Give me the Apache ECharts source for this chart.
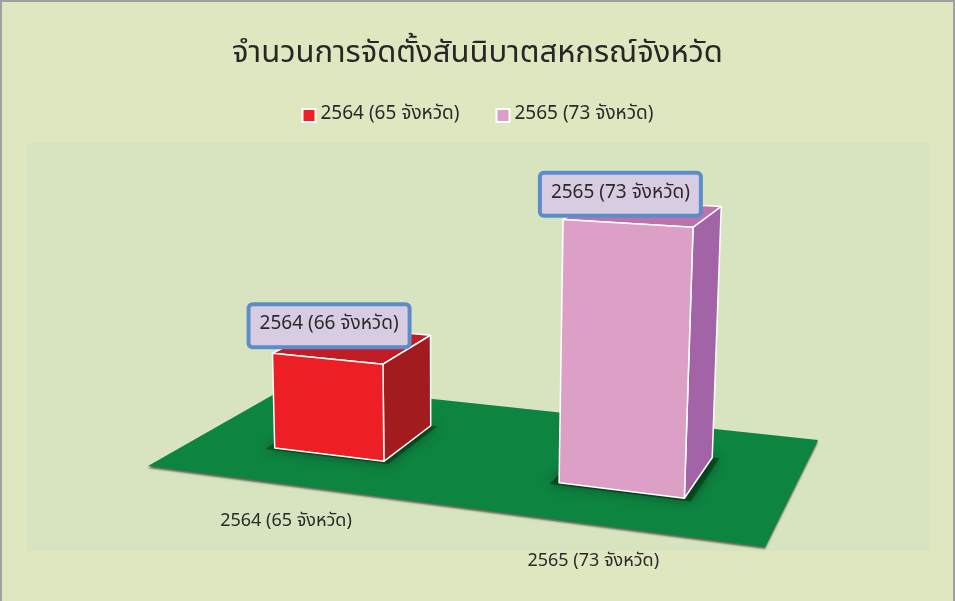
<!DOCTYPE html>
<html>
<head>
<meta charset="utf-8">
<title>จำนวนการจัดตั้งสันนิบาตสหกรณ์จังหวัด</title>
<script src="https://cdn.jsdelivr.net/npm/echarts@6/dist/echarts.min.js"></script>
<style>
html,body{margin:0;padding:0;background:#dfe7c0;}
#chart{width:955px;height:601px;}
</style>
</head>
<body>
<div id="chart"></div>
<script>
// ข้อมูล
var categories = ['2564 (65 จังหวัด)', '2565 (73 จังหวัด)'];
var seriesNames = ['2564 (65 จังหวัด)', '2565 (73 จังหวัด)'];
var values = [65, 73];
var dataLabels = ['2564 (66 จังหวัด)', '2565 (73 จังหวัด)'];
var axisMin = 60, axisMax = 75;

var FONT = "'Noto Sans Thai', 'Noto Sans', 'DejaVu Sans', sans-serif";

// สีของแท่ง: หน้า ข้าง บน
var barColors = [
  {front: '#ed1f24', side: '#a11b1f', top: '#c21d24'},
  {front: '#dca0c7', side: '#a263a7', top: '#be71af'}
];

// มุมมอง 3 มิติ: พื้น (u ตามแกนหมวด, w ตามความลึก) -> จอ
var floorQuad = [[148, 466], [765, 547], [818, 440], [292, 384]];
var tiltX = 448, tiltK = 0.000136;

function homography(q) {
  var x0 = q[0][0], y0 = q[0][1], x1 = q[1][0], y1 = q[1][1];
  var x2 = q[2][0], y2 = q[2][1], x3 = q[3][0], y3 = q[3][1];
  var dx1 = x1 - x2, dx2 = x3 - x2, dx3 = x0 - x1 + x2 - x3;
  var dy1 = y1 - y2, dy2 = y3 - y2, dy3 = y0 - y1 + y2 - y3;
  var det = dx1 * dy2 - dx2 * dy1;
  var g = (dx3 * dy2 - dx2 * dy3) / det;
  var h = (dx1 * dy3 - dx3 * dy1) / det;
  return {
    a: x1 - x0 + g * x1, b: x3 - x0 + h * x3, c: x0,
    d: y1 - y0 + g * y1, e: y3 - y0 + h * y3, f: y0,
    g: g, h: h
  };
}
var H = homography(floorQuad);

// จุดบนพื้น (u,w) ยกสูง hp พิกเซล (ที่ระยะอ้างอิง)
function P(u, w, hp) {
  var den = H.g * u + H.h * w + 1;
  var bx = (H.a * u + H.b * w + H.c) / den;
  var by = (H.d * u + H.e * w + H.f) / den;
  var k = (hp || 0) / den;
  return [bx + (bx - tiltX) * k * tiltK, by - k];
}

var edge = {stroke: '#ffffff', lineWidth: 1.5, lineJoin: 'round'};

function renderBar(params, api) {
  var cs = params.coordSys;
  var idx = api.value(0);
  var base = api.coord([idx, axisMin]);
  var top = api.coord([idx, api.value(1)]);
  var hp = base[1] - top[1];
  var band = api.size([1, 0])[0];
  var uc = (base[0] - cs.x) / cs.width;
  var hu = band * 0.4 / 2 / cs.width;
  var u0 = uc - hu, u1 = uc + hu, w0 = 0.3, w1 = 0.7;
  var col = barColors[idx];

  var front = [P(u0, w0, 0), P(u1, w0, 0), P(u1, w0, hp), P(u0, w0, hp)];
  var side = [P(u1, w0, 0), P(u1, w1, 0), P(u1, w1, hp), P(u1, w0, hp)];
  var topF = [P(u0, w0, hp), P(u1, w0, hp), P(u1, w1, hp), P(u0, w1, hp)];
  var foot = [P(u0 - 0.012, w0 - 0.02, 0), P(u1 + 0.012, w0 - 0.02, 0), P(u1 + 0.012, w1, 0), P(u0 - 0.012, w1, 0)];

  var cx = 0, cy = 0;
  topF.forEach(function (p) { cx += p[0] / 4; cy += p[1] / 4; });
  var lbl = P(uc, 0, 0);

  return {
    type: 'group',
    children: [
      {type: 'polygon', shape: {points: foot}, style: {fill: 'rgba(0,40,10,0.5)', shadowBlur: 12, shadowColor: 'rgba(0,0,0,0.7)'}},
      {type: 'polygon', shape: {points: topF}, style: Object.assign({fill: col.top}, edge)},
      {type: 'polygon', shape: {points: side}, style: Object.assign({fill: col.side}, edge)},
      {type: 'polygon', shape: {points: front}, style: Object.assign({fill: col.front}, edge)},
      {
        type: 'text', x: cx - 24, y: cy - 19,
        style: {
          text: dataLabels[idx], font: '19px ' + FONT, fill: '#2a2a2a',
          align: 'center', verticalAlign: 'middle',
          backgroundColor: '#d8cce2', borderColor: '#5b8dc9', borderWidth: 4,
          borderRadius: 2, padding: [11, 9, 9, 9]
        }
      },
      {
        type: 'text', x: lbl[0], y: lbl[1] + 38,
        style: {
          text: categories[idx], font: '18px ' + FONT, fill: '#2a2a2a',
          align: 'center', verticalAlign: 'middle'
        }
      }
    ]
  };
}

function renderFloor(params, api) {
  return {
    type: 'polygon',
    shape: {points: [P(0, 0, 0), P(1, 0, 0), P(1, 1, 0), P(0, 1, 0)]},
    style: {fill: '#0e8441', shadowColor: 'rgba(0,0,0,0.55)', shadowBlur: 2, shadowOffsetY: 2}
  };
}

var chart = echarts.init(document.getElementById('chart'));

var series = [{
  type: 'custom', name: 'floor', silent: true, z: 1,
  renderItem: renderFloor, data: [[0, axisMin]]
}];
seriesNames.forEach(function (name, i) {
  series.push({
    type: 'custom', name: name, z: 2 + i,
    itemStyle: {color: barColors[i].front},
    renderItem: renderBar,
    data: [[i, values[i]]]
  });
});

chart.setOption({
  backgroundColor: '#dfe7c0',
  animation: false,
  title: {
    text: 'จำนวนการจัดตั้งสันนิบาตสหกรณ์จังหวัด',
    left: 'center', top: 35,
    textStyle: {fontSize: 31, fontWeight: 'normal', color: '#262626', fontFamily: FONT}
  },
  legend: {
    data: seriesNames,
    top: 101, left: 'center', itemGap: 36,
    icon: 'rect', itemWidth: 13, itemHeight: 13,
    itemStyle: {borderColor: '#ffffff', borderWidth: 2},
    textStyle: {fontSize: 19, color: '#2a2a2a', fontFamily: FONT}
  },
  graphic: [
    {type: 'rect', z: -10, shape: {x: 1, y: 1, width: 953, height: 610}, style: {fill: 'none', stroke: '#a0a0a0', lineWidth: 2}},
    {type: 'rect', z: -10, shape: {x: 27, y: 143, width: 903, height: 408}, style: {fill: '#d8e4bf'}}
  ],
  grid: {left: 100, right: 100, top: 120, height: 294},
  xAxis: {type: 'category', data: categories, show: false},
  yAxis: {type: 'value', min: axisMin, max: axisMax, show: false},
  series: series
});
</script>
</body>
</html>
